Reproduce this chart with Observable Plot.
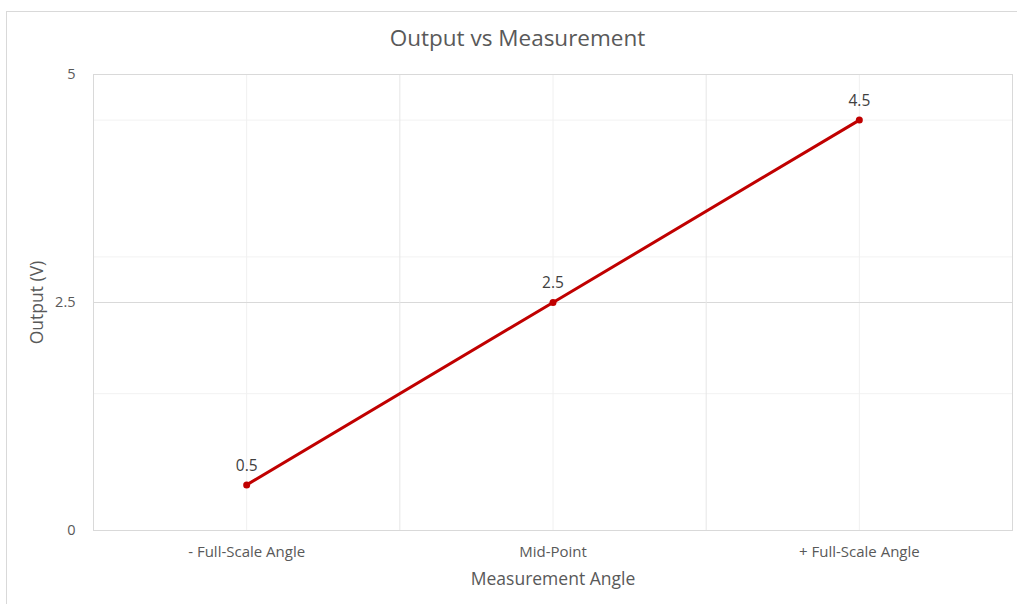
<!DOCTYPE html>
<html>
<head>
<meta charset="utf-8">
<script src="https://cdn.jsdelivr.net/npm/d3@7"></script>
<script src="https://cdn.jsdelivr.net/npm/@observablehq/plot@0.6"></script>
<style>
  html, body { margin: 0; padding: 0; background: #fff; overflow: hidden; }
  body { width: 1017px; height: 604px; position: relative; font-family: "Open Sans", sans-serif; }
  #border { position: absolute; left: 6px; top: 11px; width: 1100px; height: 700px; border: 1px solid #d9d9d9; box-sizing: border-box; }
  #title { position: absolute; left: 0; top: 23px; width: 1035px; text-align: center; font-size: 22.5px; line-height: 30px; color: #595959; }
  #chart { position: absolute; left: 0; top: 60px; }
</style>
</head>
<body>
<div id="border"></div>
<div id="title">Output vs Measurement</div>
<div id="chart"></div>
<script>
const categories = ["- Full-Scale Angle", "Mid-Point", "+ Full-Scale Angle"];
const outputs = [0.5, 2.5, 4.5];
const yMajorTicks = [0, 2.5, 5];
const yMinorTicks = [1.5, 3, 4.5];
const xTitle = "Measurement Angle";
const yTitle = "Output (V)";

const data = categories.map((c, i) => ({i, category: c, value: outputs[i]}));
const idx = data.map(d => d.i);
const boundaries = [idx[0] - 0.5, ...idx.map(i => i + 0.5)];

const chart = Plot.plot({
  width: 1017,
  height: 544,
  marginTop: 14,
  marginBottom: 74,
  marginLeft: 93,
  marginRight: 5,
  style: {fontFamily: "'Open Sans', sans-serif", background: "transparent"},
  x: {domain: [-0.5, 2.5], axis: null},
  y: {domain: [0, 5], axis: null},
  marks: [
    Plot.ruleY(yMinorTicks, {stroke: "#f2f2f2", strokeWidth: 1}),
    Plot.ruleX(idx, {stroke: "#f0f0f0", strokeWidth: 1}),
    Plot.ruleY(yMajorTicks, {stroke: "#d9d9d9", strokeWidth: 1}),
    Plot.ruleX(boundaries, {stroke: "#e6e6e6", strokeWidth: 1}),
    Plot.frame({stroke: "#d9d9d9"}),
    Plot.axisY(yMajorTicks, {tickSize: 0, tickPadding: 18, label: null, fontSize: 14.5, color: "#595959", tickFormat: d => String(d)}),
    Plot.axisX(idx, {tickSize: 0, tickPadding: 16, label: null, fontSize: 15, color: "#595959", tickFormat: i => categories[i]}),
    Plot.line(data, {x: "i", y: "value", stroke: "#c00000", strokeWidth: 3}),
    Plot.dot(data, {x: "i", y: "value", r: 3.5, fill: "#c00000", stroke: "none"}),
    Plot.text(data, {x: "i", y: "value", text: d => String(d.value), dy: -19, fontSize: 15.5, fill: "#404040"}),
    Plot.text([yTitle], {frameAnchor: "left", textAnchor: "middle", dx: -56, rotate: -90, fontSize: 17.5, fill: "#595959"}),
    Plot.text([xTitle], {frameAnchor: "bottom", dy: 54, fontSize: 17.5, fill: "#595959"})
  ]
});
document.getElementById("chart").appendChild(chart);
</script>
</body>
</html>
